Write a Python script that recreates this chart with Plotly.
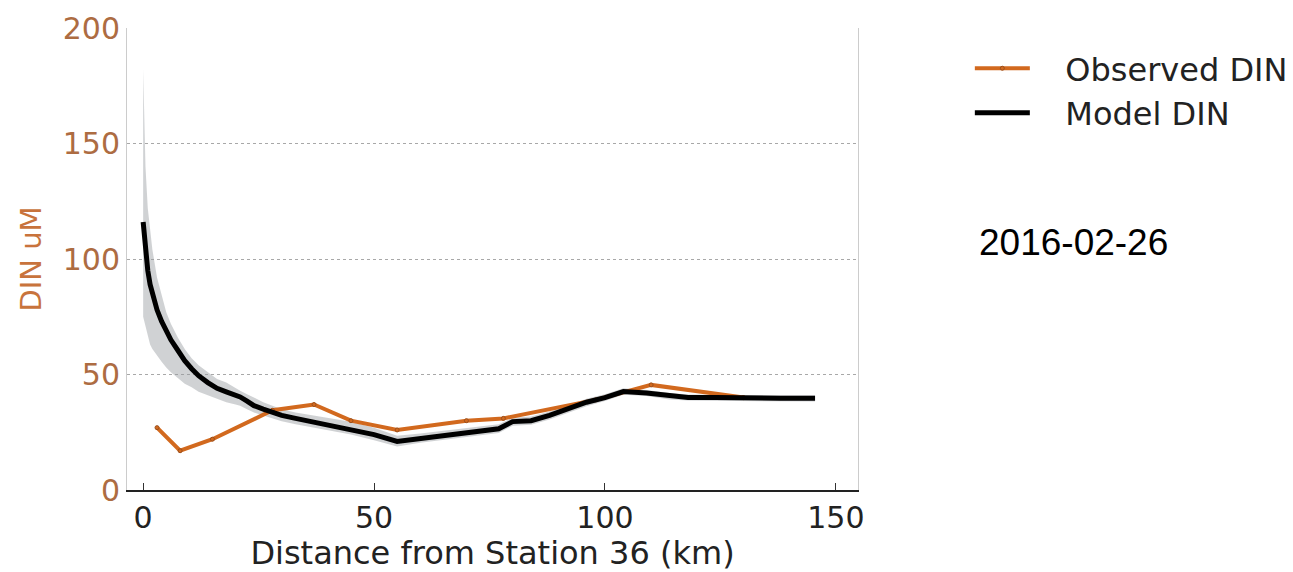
import plotly.graph_objects as go

# ---- data ----
obs_km = [3, 8, 15, 28, 37, 45, 55, 70, 78, 98, 110, 130]
obs_din = [27, 17, 22, 34.5, 37, 30, 26, 30, 31, 39, 45.5, 40]

model_km = [0, 0.5, 1, 1.5, 2, 3, 4, 5, 6, 7.5, 9, 10.5, 12, 14, 16, 18, 20, 21,
            22.5, 24, 26, 28, 30, 33, 36, 40, 45, 50, 55, 60, 66, 72, 77, 80, 84,
            88, 92, 96, 100, 104, 109, 114, 118, 124, 130, 138, 145.5]
model_din = [116, 104, 95, 89, 85, 78, 73, 69, 65, 60.5, 56, 52.5, 49.5, 46.5, 44,
             42.5, 41, 40.3, 38.5, 36.5, 35, 33.5, 32.3, 31, 29.8, 28.3, 26.5, 24,
             21, 22.3, 23.8, 25.2, 26.5, 29.6, 30, 32.3, 35, 38, 40, 42.6, 42,
             40.6, 40, 40, 39.7, 39.7, 39.7]
model_upper = [182, 140, 122, 112, 104, 92, 84, 77, 72, 66, 61, 57, 54, 51, 48,
               46.5, 44, 43, 41.5, 40, 38, 36.5, 35, 33.5, 32.5, 31, 29.5, 27,
               23.5, 24.5, 26, 27.2, 28.5, 31.3, 31.8, 34, 36.5, 39.5, 41.5, 44,
               43.3, 42, 41.3, 41.2, 41, 41, 41]
model_lower = [75, 71, 66, 63, 61, 58, 55.5, 53, 51, 48.5, 46, 44.5, 42.5, 41,
               39.5, 38, 37, 36.5, 35, 33.5, 32.3, 31, 29.8, 28.5, 27.3, 25.8, 24,
               21.5, 18.8, 20.5, 22, 23.4, 24.7, 27.8, 28.3, 30.5, 33.3, 36.3,
               38.5, 41.2, 40.7, 39.2, 38.7, 38.6, 38.3, 38.3, 38.3]

x_ticks = [0, 50, 100, 150]
y_ticks = [0, 50, 100, 150, 200]
date_label = "2016-02-26"

ORANGE = "#d2691e"
BROWN = "#ad6c42"
FONT = "DejaVu Sans"
PAD = "\u00a0\u00a0\u00a0"

fig = go.Figure()

# uncertainty band
fig.add_trace(go.Scatter(x=model_km, y=model_lower, mode="lines",
                         line=dict(width=0), showlegend=False, hoverinfo="skip"))
fig.add_trace(go.Scatter(x=model_km, y=model_upper, mode="lines",
                         line=dict(width=0), fill="tonexty",
                         fillcolor="rgba(150,155,160,0.45)",
                         showlegend=False, hoverinfo="skip"))

fig.add_trace(go.Scatter(x=obs_km, y=obs_din, mode="lines+markers",
                         name=PAD + "Observed DIN",
                         line=dict(color=ORANGE, width=4),
                         marker=dict(size=4, color=ORANGE,
                                     line=dict(color="#9a4f1c", width=1))))
fig.add_trace(go.Scatter(x=model_km, y=model_din, mode="lines",
                         name=PAD + "Model DIN",
                         line=dict(color="black", width=5)))

fig.add_annotation(x=1.163, y=0.535, xref="paper", yref="paper",
                   text=date_label, showarrow=False, xanchor="left",
                   yanchor="middle",
                   font=dict(family="Liberation Sans", size=37, color="black"))

fig.update_layout(
    width=1293, height=572,
    margin=dict(l=127, r=435, t=28, b=82, autoexpand=False),
    paper_bgcolor="white", plot_bgcolor="white",
    font=dict(family=FONT, size=30, color="#222"),
    legend=dict(x=1.153, y=0.972, xanchor="left", yanchor="top",
                traceorder="normal",
                font=dict(family=FONT, size=32, color="#222"),
                itemwidth=55, tracegroupgap=0, bgcolor="rgba(0,0,0,0)"),
    xaxis=dict(range=[-3.5, 154.8], tickvals=x_ticks, ticks="inside",
               ticklen=7, tickwidth=1, tickcolor="#333",
               showline=True, linecolor="#222", linewidth=2,
               showgrid=False, zeroline=False,
               tickfont=dict(family=FONT, size=30, color="#222"),
               title=dict(text="Distance from Station 36 (km)",
                          font=dict(family=FONT, size=32, color="#222"),
                          standoff=8)),
    yaxis=dict(range=[0, 200], tickvals=y_ticks, ticks="",
               showline=True, linecolor="#cccccc", linewidth=1, mirror=True,
               showgrid=True, gridcolor="#a8a8a8", griddash="dot", gridwidth=1,
               zeroline=False,
               tickfont=dict(family=FONT, size=30, color=BROWN),
               title=dict(text="DIN uM",
                          font=dict(family=FONT, size=29, color="#c8733c"),
                          standoff=12)),
)

fig.write_html("out.html")
